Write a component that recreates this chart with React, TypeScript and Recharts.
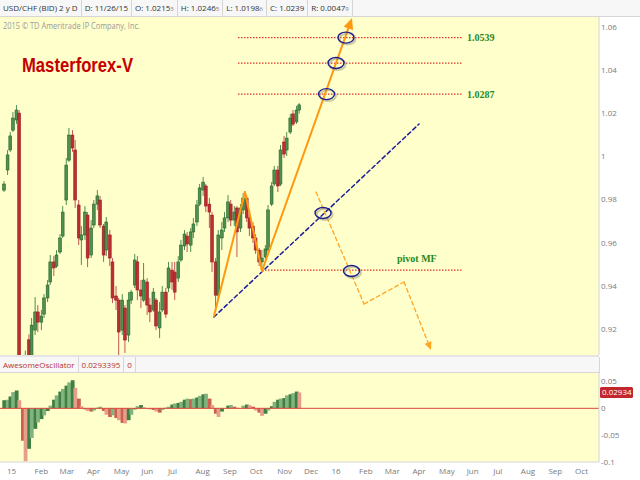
import React from 'react';
import {
  Bar,
  CartesianGrid,
  Cell,
  ComposedChart,
  ReferenceDot,
  ReferenceLine,
  XAxis,
  YAxis,
} from 'recharts';

const FONT = '"Open Sans", "Noto Sans", Arial, sans-serif';

// daily USD/CHF candles, sampled twice a week (Mon / Thu)
const candleDates = [
  '2014-12-29', '2015-01-02', '2015-01-05', '2015-01-08', '2015-01-12', '2015-01-15', '2015-01-19', '2015-01-22',
  '2015-01-26', '2015-01-29', '2015-02-02', '2015-02-05', '2015-02-09', '2015-02-12', '2015-02-16', '2015-02-19',
  '2015-02-23', '2015-02-26', '2015-03-02', '2015-03-05', '2015-03-09', '2015-03-12', '2015-03-16', '2015-03-19',
  '2015-03-23', '2015-03-26', '2015-03-30', '2015-04-02', '2015-04-06', '2015-04-09', '2015-04-13', '2015-04-16',
  '2015-04-20', '2015-04-23', '2015-04-27', '2015-04-30', '2015-05-04', '2015-05-07', '2015-05-11', '2015-05-14',
  '2015-05-18', '2015-05-21', '2015-05-25', '2015-05-28', '2015-06-01', '2015-06-04', '2015-06-08', '2015-06-11',
  '2015-06-15', '2015-06-18', '2015-06-22', '2015-06-25', '2015-06-29', '2015-07-02', '2015-07-06', '2015-07-09',
  '2015-07-13', '2015-07-16', '2015-07-20', '2015-07-23', '2015-07-27', '2015-07-30', '2015-08-03', '2015-08-06',
  '2015-08-10', '2015-08-13', '2015-08-17', '2015-08-20', '2015-08-24', '2015-08-27', '2015-08-31', '2015-09-03',
  '2015-09-07', '2015-09-10', '2015-09-14', '2015-09-17', '2015-09-21', '2015-09-24', '2015-09-28', '2015-10-01',
  '2015-10-05', '2015-10-08', '2015-10-12', '2015-10-15', '2015-10-19', '2015-10-22', '2015-10-26', '2015-10-29',
  '2015-11-02', '2015-11-05', '2015-11-09', '2015-11-12', '2015-11-16', '2015-11-19', '2015-11-23', '2015-11-26',
];

const opens = [
  0.9844, 0.9937, 1.003, 1.0122, 1.0169, 1.0201, 0.8631, 0.86, 0.915, 0.905, 0.9195, 0.9279, 0.9232, 0.9269, 0.9344, 0.9418,
  0.9511, 0.9492, 0.9557, 0.9631, 0.9798, 0.9983, 1.0099, 1.003, 0.9775, 0.9613, 0.9636, 0.9728, 0.9543, 0.9682, 0.9779, 0.9798,
  0.9677, 0.9566, 0.9636, 0.9511, 0.9353, 0.9334, 0.9195, 0.9297, 0.9172, 0.9334, 0.9404, 0.9511, 0.9381, 0.9334, 0.9418, 0.9311,
  0.9288, 0.9334, 0.9205, 0.9288, 0.9371, 0.939, 0.9473, 0.9464, 0.9436, 0.952, 0.9585, 0.9631, 0.9589, 0.965, 0.9696, 0.9779,
  0.9844, 0.9863, 0.9779, 0.9728, 0.9511, 0.9357, 0.9622, 0.9668, 0.9715, 0.9779, 0.9705, 0.9761, 0.9668, 0.9752, 0.9807, 0.9715,
  0.9677, 0.9622, 0.9566, 0.9511, 0.9534, 0.9566, 0.9779, 0.9872, 0.9937, 0.9872, 1.0067, 1.003, 1.0113, 1.0197, 1.016, 1.0215,
];
const highs = [
  0.9886, 1.003, 1.0113, 1.0206, 1.0238, 1.0215, 0.875, 0.91, 0.9175, 0.9251, 0.9348, 0.9311, 0.9288, 0.9362, 0.9427, 0.9543,
  0.9538, 0.9566, 0.964, 0.977, 0.9993, 1.0132, 1.0122, 1.0076, 0.9798, 0.9678, 0.977, 0.9742, 0.9705, 0.9798, 0.9844, 0.9817,
  0.9687, 0.9719, 0.9659, 0.9529, 0.9399, 0.9344, 0.9362, 0.9311, 0.9371, 0.9381, 0.9548, 0.9538, 0.9427, 0.9506, 0.9436, 0.9344,
  0.939, 0.9344, 0.9325, 0.9399, 0.939, 0.9511, 0.9511, 0.9511, 0.9538, 0.9613, 0.9659, 0.965, 0.9668, 0.9715, 0.9798, 0.9872,
  0.9905, 0.9872, 0.9807, 0.9742, 0.9529, 0.9659, 0.9696, 0.9742, 0.9821, 0.9798, 0.977, 0.977, 0.9779, 0.983, 0.9821, 0.9742,
  0.9696, 0.964, 0.9576, 0.9566, 0.9589, 0.9775, 0.9881, 0.9956, 0.9956, 1.0053, 1.0095, 1.0113, 1.0197, 1.0215, 1.0234, 1.0247,
];
const lows = [
  0.9835, 0.9914, 1.0021, 1.0113, 1.0151, 0.7406, 0.85, 0.855, 0.898, 0.9, 0.9172, 0.9186, 0.9195, 0.9251, 0.9325, 0.9404,
  0.9446, 0.9483, 0.9548, 0.9622, 0.9775, 0.9974, 1.0021, 0.9761, 0.9589, 0.9497, 0.9613, 0.9487, 0.9529, 0.9668, 0.9752, 0.9668,
  0.9511, 0.9538, 0.9492, 0.932, 0.9288, 0.9079, 0.9172, 0.9089, 0.914, 0.9316, 0.939, 0.9334, 0.9297, 0.9325, 0.9265, 0.9232,
  0.9279, 0.9195, 0.9158, 0.9279, 0.9251, 0.9371, 0.9381, 0.9334, 0.9418, 0.9511, 0.9566, 0.9557, 0.9557, 0.9622, 0.9677, 0.977,
  0.9817, 0.9742, 0.9668, 0.9464, 0.9279, 0.9334, 0.9566, 0.965, 0.9696, 0.9677, 0.9677, 0.9534, 0.965, 0.9733, 0.9696, 0.9631,
  0.9599, 0.9548, 0.9492, 0.9483, 0.952, 0.9557, 0.977, 0.9863, 0.9835, 0.9863, 0.9993, 1.0002, 1.0104, 1.0141, 1.0151, 1.0199,
];
const closes = [
  0.9872, 1.0007, 1.0095, 1.0178, 1.0215, 0.8631, 0.86, 0.9, 0.902, 0.9218, 0.9279, 0.9232, 0.926, 0.9344, 0.9404, 0.9511,
  0.9483, 0.9543, 0.9622, 0.9742, 0.996, 1.0099, 1.0039, 0.9798, 0.9622, 0.9636, 0.9742, 0.9529, 0.9668, 0.9779, 0.9817, 0.9682,
  0.9543, 0.9696, 0.9529, 0.9344, 0.9334, 0.9186, 0.9334, 0.9149, 0.9334, 0.9371, 0.952, 0.9381, 0.9353, 0.9427, 0.9311, 0.9279,
  0.9371, 0.9214, 0.9279, 0.9371, 0.9269, 0.9483, 0.9418, 0.9371, 0.9511, 0.9589, 0.964, 0.9594, 0.965, 0.9687, 0.9775, 0.9854,
  0.9881, 0.977, 0.9742, 0.9511, 0.9357, 0.9636, 0.9659, 0.9715, 0.9789, 0.9705, 0.9742, 0.965, 0.9761, 0.9807, 0.9715, 0.9668,
  0.9622, 0.9566, 0.9511, 0.9529, 0.9571, 0.9752, 0.9863, 0.9937, 0.9863, 1.003, 1.0011, 1.0085, 1.0178, 1.015, 1.0215, 1.0239,
];

// Awesome Oscillator on the same dates
const aoValues = [
  0.015, 0.016, 0.022, 0.03, 0.033, 0.015, -0.06, -0.098, -0.075, -0.055, -0.038, -0.026, -0.02, -0.013, -0.005, 0.005,
  0.016, 0.024, 0.031, 0.036, 0.042, 0.048, 0.052, 0.038, 0.018, 0.004, -0.002, -0.005, -0.006, -0.004, 0.001, 0.003,
  -0.005, -0.012, -0.016, -0.013, -0.018, -0.022, -0.027, -0.028, -0.022, -0.012, -0.002, 0.004, 0.006, 0.002, -0.001, -0.002,
  -0.003, -0.006, -0.008, -0.003, 0.001, 0.003, 0.007, 0.009, 0.01, 0.012, 0.016, 0.018, 0.017, 0.018, 0.02, 0.023,
  0.026, 0.027, 0.018, 0.006, -0.01, -0.016, -0.006, 0.0, 0.005, 0.006, 0.003, 0.001, 0.0, 0.005, 0.007, 0.006,
  0.003, -0.004, -0.008, -0.014, -0.01, -0.004, 0.004, 0.012, 0.016, 0.018, 0.019, 0.024, 0.026, 0.028, 0.031, 0.0293395,
];
const lastAo = 0.02934;

const monthStarts = [
  '2015-01-01', '2015-02-01', '2015-03-01', '2015-04-01', '2015-05-01', '2015-06-01', '2015-07-01', '2015-08-01',
  '2015-09-01', '2015-10-01', '2015-11-01', '2015-12-01', '2016-01-01', '2016-02-01', '2016-03-01', '2016-04-01',
  '2016-05-01', '2016-06-01', '2016-07-01', '2016-08-01', '2016-09-01', '2016-10-01',
];
const monthLabels = [
  '15', 'Feb', 'Mar', 'Apr', 'May', 'Jun', 'Jul', 'Aug', 'Sep', 'Oct', 'Nov', 'Dec',
  '16', 'Feb', 'Mar', 'Apr', 'May', 'Jun', 'Jul', 'Aug', 'Sep', 'Oct',
];

const priceTicks = [0.92, 0.94, 0.96, 0.98, 1, 1.02, 1.04, 1.06];
const aoTicks = [-0.1, -0.05, 0, 0.05];

// drawn analysis: x in days since 2015-01-01, y in price
const levelLines = [
  { from: 259.8, to: 511.8, price: 1.0551 },
  { from: 259.8, to: 511.8, price: 1.0433 },
  { from: 259.8, to: 511.8, price: 1.0289 },
  { from: 286.8, to: 511.8, price: 0.9473 },
];
const levelLabels = [
  { day: 517.4, price: 1.0551, text: '1.0539' },
  { day: 517.4, price: 1.0289, text: '1.0287' },
  { day: 438.7, price: 0.9529, text: 'pivot MF' },
];
const wavePath = [
  { day: 232.8, price: 0.926 },
  { day: 267.7, price: 0.9835 },
  { day: 286.8, price: 0.9469 },
  { day: 388.1, price: 1.0642 },
];
const forecastPath = [
  { day: 347.6, price: 0.9835 },
  { day: 401.6, price: 0.9316 },
  { day: 446.6, price: 0.9418 },
  { day: 476.9, price: 0.9103 },
];
const trendLine = [
  { day: 232.8, price: 0.9256 },
  { day: 463.4, price: 1.015 },
];
const rings = [
  { day: 381.3, price: 1.0551 },
  { day: 370.1, price: 1.0433 },
  { day: 359.4, price: 1.0289 },
  { day: 355.5, price: 0.9738 },
  { day: 387.5, price: 0.9469 },
];

const BASE = Date.UTC(2015, 0, 1);
const dayOf = (s: string) => {
  const [y, m, d] = s.split('-').map(Number);
  return (Date.UTC(y, m - 1, d) - BASE) / 86400000;
};

const X_DOMAIN: [number, number] = [-7.9, 665.9];

const candles = candleDates.map((date, i) => ({
  day: dayOf(date),
  open: opens[i],
  high: highs[i],
  low: lows[i],
  close: closes[i],
  range: [lows[i], highs[i]],
  ao: aoValues[i],
  aoUp: i === 0 || aoValues[i] >= aoValues[i - 1],
}));

const monthTickDays = monthStarts.map(dayOf);
const labelByDay = new Map(monthTickDays.map((d, i) => [d, monthLabels[i]]));

function CandleShape(props: any) {
  const { x, y, width, height, payload } = props;
  if (x == null || !payload) return null;
  const { open, close, high, low } = payload;
  const py = (v: number) => y + ((high - v) / (high - low)) * height;
  const up = close >= open;
  const top = py(Math.max(open, close));
  const bottom = py(Math.min(open, close));
  const cx = x + width / 2;
  const bw = 2.8;
  return (
    <g>
      <line x1={cx} x2={cx} y1={y} y2={y + height} stroke={up ? '#4f8f4f' : '#c45656'} strokeWidth={1} />
      <rect
        x={cx - bw / 2}
        y={top}
        width={bw}
        height={Math.max(1, bottom - top)}
        fill={up ? '#4e904e' : '#bb2f32'}
        stroke={up ? '#25622a' : '#9c1c20'}
        strokeWidth={0.6}
      />
    </g>
  );
}

function AoShape(props: any) {
  const { x, y, width, height, fill } = props;
  if (x == null) return null;
  const top = height < 0 ? y + height : y;
  return <rect x={x - 0.7} y={top} width={width + 1.4} height={Math.abs(height)} fill={fill} />;
}

function segmentShape(color: string, width: number, dash?: string, arrow?: number) {
  return (p: any) => {
    const { x1, y1, x2, y2 } = p;
    const a = Math.atan2(y2 - y1, x2 - x1);
    let ex = x2;
    let ey = y2;
    let head = null;
    if (arrow) {
      const half = arrow * 0.45;
      const bx = x2 - arrow * Math.cos(a);
      const by = y2 - arrow * Math.sin(a);
      ex = bx;
      ey = by;
      const pts = `${x2},${y2} ${bx + half * Math.sin(a)},${by - half * Math.cos(a)} ${bx - half * Math.sin(a)},${by + half * Math.cos(a)}`;
      head = <polygon points={pts} fill={color} />;
    }
    return (
      <g>
        <line x1={x1} y1={y1} x2={ex} y2={ey} stroke={color} strokeWidth={width} strokeDasharray={dash} strokeLinecap="round" />
        {head}
      </g>
    );
  };
}

const ringShape = (p: any) => (
  <g>
    <ellipse cx={p.cx + 1.5} cy={p.cy + 1.5} rx={8} ry={5.5} fill="none" stroke="#8a8a6a" strokeOpacity={0.45} strokeWidth={2} />
    <ellipse cx={p.cx} cy={p.cy} rx={8} ry={5.5} fill="none" stroke="#1c1c8e" strokeWidth={1.4} />
  </g>
);

const labelShape = (text: string) => (p: any) => (
  <text
    x={p.cx}
    y={p.cy}
    dy="0.35em"
    fill="#1f8a1f"
    fontFamily='"Liberation Serif", "DejaVu Serif", serif'
    fontWeight="bold"
    fontSize={10}
  >
    {text}
  </text>
);

const MonthTick = (props: any) => {
  const { x, y, payload } = props;
  return (
    <text x={x} y={y} dy="0.71em" textAnchor="start" fill="#7a7a7a" fontSize={8} fontFamily={FONT}>
      {labelByDay.get(payload.value)}
    </text>
  );
};

const LastAoTag = (props: any) => {
  const vb = props.viewBox;
  if (!vb) return null;
  const x = vb.x + vb.width + 1;
  return (
    <g>
      <rect x={x} y={vb.y - 5.5} width={33} height={11} rx={1.5} fill="#c1272d" />
      <text x={x + 2} y={vb.y} dy="0.35em" fill="#fff" fontSize={8} fontFamily={FONT}>
        {lastAo.toFixed(5)}
      </text>
    </g>
  );
};

const headerCells: [string, string][] = [
  ['USD/CHF (BID) 2 y D', ''],
  ['D: 11/26/15', ''],
  ['O: 1.0215', '3'],
  ['H: 1.0246', '5'],
  ['L: 1.0198', '6'],
  ['C: 1.0239', ''],
  ['R: 0.0047', '9'],
];
const oscCells = ['AwesomeOscillator', '0.0293395', '0'];

const cellStyle: React.CSSProperties = {
  padding: '0 3px',
  borderRight: '1px solid #d6d6d6',
  lineHeight: '15px',
  whiteSpace: 'nowrap',
};

function segments(path: { day: number; price: number }[]) {
  return path.slice(1).map((p, i) => [path[i], p]);
}

export default function App() {
  const axisTick = { fontSize: 8, fill: '#7a7a7a', fontFamily: FONT };
  const waveSegs = segments(wavePath);
  const forecastSegs = segments(forecastPath);
  return (
    <div style={{ position: 'relative', width: 640, height: 480, background: '#fff', overflow: 'hidden', fontFamily: FONT }}>
      <style>{'body{margin:0}'}</style>

      <div
        style={{
          position: 'absolute', top: 0, left: 0, width: 640, height: 16, display: 'flex',
          background: '#f7f7f7', borderBottom: '1px solid #d6d6d6', fontSize: 8, color: '#333',
        }}
      >
        {headerCells.map(([main, sub]) => (
          <div key={main} style={cellStyle}>
            {main}
            {sub && <span style={{ fontSize: 6, color: '#777' }}>{sub}</span>}
          </div>
        ))}
      </div>

      <div style={{ position: 'absolute', top: 17, left: 0 }}>
        <ComposedChart width={640} height={338} data={candles} margin={{ top: 0, right: 0, bottom: 0, left: 0 }}>
          <CartesianGrid horizontal={false} vertical={false} fill="#ffffcc" />
          <XAxis dataKey="day" type="number" domain={X_DOMAIN} allowDataOverflow hide />
          <YAxis
            orientation="right"
            width={41}
            domain={[0.90795, 1.06464]}
            allowDataOverflow
            ticks={priceTicks}
            interval={0}
            tickLine={false}
            tickSize={0}
            tickMargin={2}
            axisLine={{ stroke: '#d4d4d4' }}
            tick={axisTick}
            tickFormatter={(v: number) => String(v)}
          />
          <Bar dataKey="range" barSize={2} shape={CandleShape} isAnimationActive={false} />
          {levelLines.map((l, i) => (
            <ReferenceLine
              key={`lv${i}`}
              segment={[{ x: l.from, y: l.price }, { x: l.to, y: l.price }]}
              stroke="#e0332b"
              strokeWidth={1.2}
              strokeDasharray="1.5 1.5"
              ifOverflow="visible"
            />
          ))}
          <ReferenceLine
            segment={[{ x: trendLine[0].day, y: trendLine[0].price }, { x: trendLine[1].day, y: trendLine[1].price }]}
            shape={segmentShape('#1e1e9a', 1.5, '4 3')}
            ifOverflow="visible"
          />
          {waveSegs.map(([a, b], i) => (
            <ReferenceLine
              key={`w${i}`}
              segment={[{ x: a.day, y: a.price }, { x: b.day, y: b.price }]}
              shape={segmentShape('#ff9a10', 2, undefined, i === waveSegs.length - 1 ? 11 : 0)}
              ifOverflow="visible"
            />
          ))}
          {forecastSegs.map(([a, b], i) => (
            <ReferenceLine
              key={`f${i}`}
              segment={[{ x: a.day, y: a.price }, { x: b.day, y: b.price }]}
              shape={segmentShape('#ffa526', 1.3, '4 3', i === forecastSegs.length - 1 ? 8 : 0)}
              ifOverflow="visible"
            />
          ))}
          {rings.map((r, i) => (
            <ReferenceDot key={`r${i}`} x={r.day} y={r.price} r={8} shape={ringShape} ifOverflow="visible" />
          ))}
          {levelLabels.map((l) => (
            <ReferenceDot key={l.text} x={l.day} y={l.price} r={1} shape={labelShape(l.text)} ifOverflow="visible" />
          ))}
        </ComposedChart>
      </div>

      <svg width={640} height={480} style={{ position: 'absolute', top: 0, left: 0, pointerEvents: 'none' }}>
        <text x={3} y={29} fill="#9a9a9a" fontSize={8.5} fontFamily={FONT} textLength={137} lengthAdjust="spacingAndGlyphs">
          2015 © TD Ameritrade IP Company, Inc.
        </text>
        <text
          x={22}
          y={71.5}
          fill="#c40000"
          fontSize={20.5}
          fontWeight="bold"
          fontFamily='"Liberation Sans", Arial, sans-serif'
          textLength={111}
          lengthAdjust="spacingAndGlyphs"
        >
          Masterforex-V
        </text>
      </svg>

      <div style={{ position: 'absolute', top: 355, left: 0, width: 599, height: 2, background: '#e4e4e4' }} />
      <div
        style={{
          position: 'absolute', top: 357, left: 0, width: 599, height: 15, display: 'flex',
          background: '#f7f7f7', borderBottom: '1px solid #d6d6d6', borderRight: '1px solid #d6d6d6',
          fontSize: 8, color: '#b8322c',
        }}
      >
        {oscCells.map((c) => (
          <div key={c} style={cellStyle}>{c}</div>
        ))}
      </div>

      <div style={{ position: 'absolute', top: 373, left: 0 }}>
        <ComposedChart width={640} height={107} data={candles} margin={{ top: 0, right: 0, bottom: 0, left: 0 }}>
          <CartesianGrid horizontal={false} vertical={false} fill="#ffffcc" />
          <XAxis
            dataKey="day"
            type="number"
            domain={X_DOMAIN}
            allowDataOverflow
            ticks={monthTickDays}
            interval={0}
            height={18}
            tickLine={false}
            tickSize={4}
            tickMargin={2}
            axisLine={{ stroke: '#d4d4d4' }}
            tick={<MonthTick />}
          />
          <YAxis
            orientation="right"
            width={41}
            domain={[-0.0994, 0.0654]}
            allowDataOverflow
            ticks={aoTicks}
            interval={0}
            tickLine={false}
            tickSize={0}
            tickMargin={2}
            axisLine={{ stroke: '#d4d4d4' }}
            tick={axisTick}
            tickFormatter={(v: number) => String(v)}
          />
          <Bar dataKey="ao" barSize={3} shape={AoShape} isAnimationActive={false}>
            {candles.map((d, i) => (
              <Cell
                key={i}
                fill={d.aoUp ? (i % 2 ? '#80b380' : '#3f7f3f') : (i % 2 ? '#e89e8c' : '#c9614d')}
              />
            ))}
          </Bar>
          <ReferenceLine y={0} stroke="#d9463b" strokeWidth={1} />
          <ReferenceLine y={lastAo} stroke="none" label={<LastAoTag />} />
        </ComposedChart>
      </div>
    </div>
  );
}
